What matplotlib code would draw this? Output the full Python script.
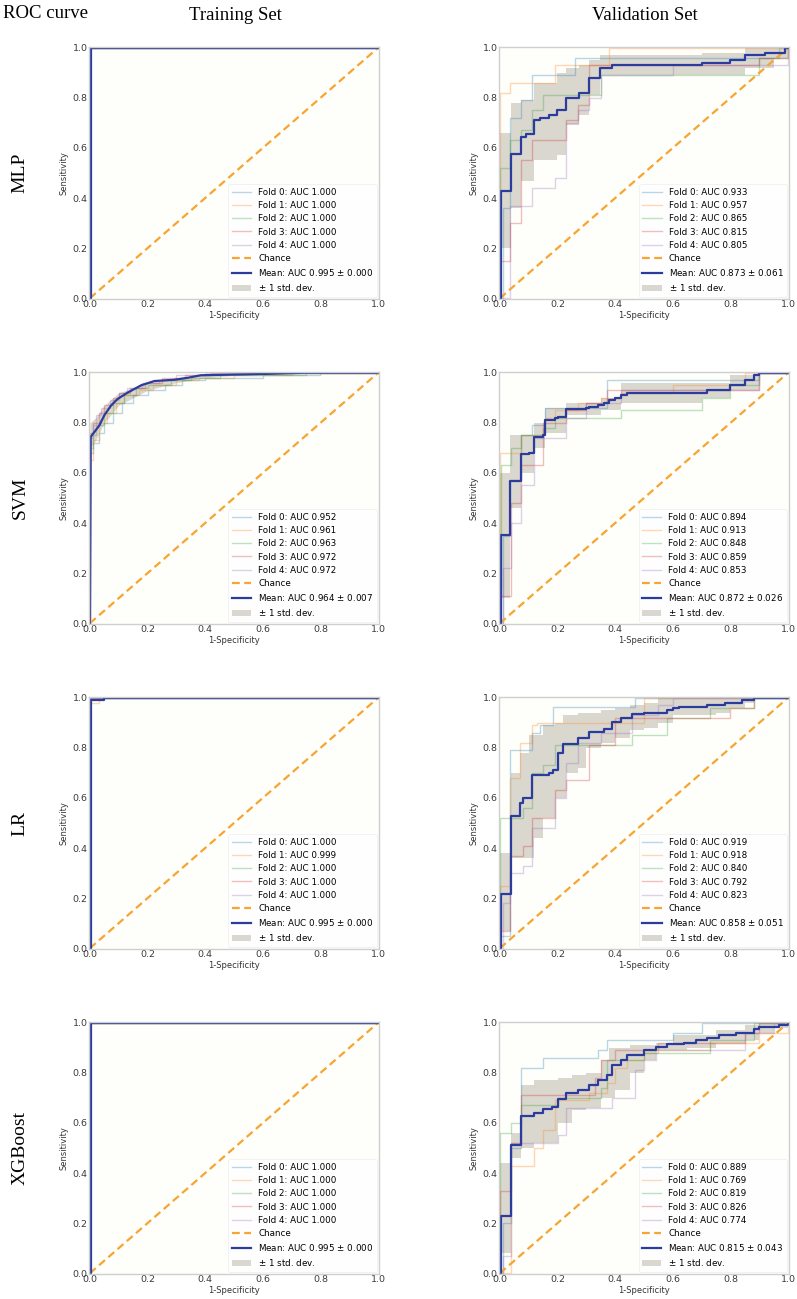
import numpy as np
import matplotlib
matplotlib.use("Agg")
import matplotlib.pyplot as plt

# ---------------------------------------------------------------------------
# datos (fpr = 1-especificidad, tpr = sensibilidad)
# cada curva: en fpr[i] la curva sube hasta tpr[i] (escalon)
# ---------------------------------------------------------------------------
MODELS = ["MLP", "SVM", "LR", "XGBoost"]

PERFECT_FPR = [0.0, 1.0]
PERFECT_TPR = [1.0, 1.0]

# --- MLP entrenamiento
mlp_tr_fold_fpr = [PERFECT_FPR] * 5
mlp_tr_fold_tpr = [PERFECT_TPR] * 5
mlp_tr_auc = [1.000, 1.000, 1.000, 1.000, 1.000]
mlp_tr_mean_fpr = [0.005, 1.0]
mlp_tr_mean_tpr = [1.0, 1.0]
mlp_tr_band_fpr = [0.0, 0.005]
mlp_tr_band_lo = [0.0, 1.0]
mlp_tr_band_hi = [0.0, 1.0]
mlp_tr_mean_auc = (0.995, 0.000)

# --- MLP validacion
mlp_va_fold_fpr = [
    [0.01, 0.035, 0.075, 0.11, 0.26, 0.97],
    [0.0, 0.035, 0.19, 0.38],
    [0.0, 0.035, 0.075, 0.11, 0.15, 0.35, 0.9, 1.0],
    [0.0, 0.035, 0.075, 0.11, 0.23, 0.27, 0.31, 0.9, 1.0],
    [0.035, 0.11, 0.19, 0.23, 0.27, 0.31, 0.35, 0.6, 1.0],
]
mlp_va_fold_tpr = [
    [0.36, 0.72, 0.79, 0.89, 0.96, 1.0],
    [0.82, 0.86, 0.93, 1.0],
    [0.52, 0.63, 0.67, 0.75, 0.81, 0.89, 0.96, 1.0],
    [0.15, 0.30, 0.55, 0.63, 0.71, 0.77, 0.93, 0.96, 1.0],
    [0.37, 0.44, 0.48, 0.70, 0.75, 0.80, 0.89, 0.93, 1.0],
]
mlp_va_auc = [0.933, 0.957, 0.865, 0.815, 0.805]
mlp_va_mean_fpr = [0.004, 0.037, 0.075, 0.09, 0.117, 0.14, 0.17, 0.198, 0.229,
                   0.275, 0.308, 0.347, 0.39, 0.7, 0.8, 0.85, 0.92, 0.99]
mlp_va_mean_tpr = [0.43, 0.575, 0.645, 0.655, 0.713, 0.72, 0.73, 0.75, 0.80,
                   0.82, 0.88, 0.92, 0.93, 0.94, 0.95, 0.97, 0.98, 1.0]
mlp_va_band_fpr = [0.0, 0.037, 0.075, 0.117, 0.198, 0.229, 0.275, 0.308,
                   0.347, 0.7, 0.85, 0.95, 1.0]
mlp_va_band_lo = [0.20, 0.36, 0.47, 0.55, 0.57, 0.69, 0.73, 0.81, 0.89,
                  0.89, 0.92, 0.96, 1.0]
mlp_va_band_hi = [0.66, 0.78, 0.79, 0.86, 0.90, 0.92, 0.93, 0.95, 0.97,
                  0.98, 1.0, 1.0, 1.0]
mlp_va_mean_auc = (0.873, 0.061)

# --- SVM entrenamiento
svm_tr_fold_fpr = [
    [0.0, 0.01, 0.03, 0.05, 0.08, 0.11, 0.15, 0.2, 0.26, 0.32, 0.4, 0.6, 0.8],
    [0.0, 0.01, 0.03, 0.06, 0.09, 0.12, 0.17, 0.22, 0.3, 0.38, 0.5, 0.7],
    [0.0, 0.01, 0.02, 0.05, 0.08, 0.12, 0.16, 0.2, 0.28, 0.35, 0.45, 0.75],
    [0.0, 0.01, 0.03, 0.05, 0.08, 0.1, 0.14, 0.19, 0.25, 0.33, 0.42],
    [0.0, 0.01, 0.02, 0.04, 0.07, 0.1, 0.13, 0.18, 0.24, 0.3, 0.4],
]
svm_tr_fold_tpr = [
    [0.68, 0.72, 0.76, 0.80, 0.84, 0.88, 0.91, 0.93, 0.95, 0.97, 0.98, 0.99, 1.0],
    [0.65, 0.73, 0.80, 0.84, 0.88, 0.91, 0.93, 0.95, 0.97, 0.98, 0.99, 1.0],
    [0.70, 0.75, 0.79, 0.84, 0.88, 0.91, 0.94, 0.95, 0.97, 0.98, 0.99, 1.0],
    [0.76, 0.80, 0.84, 0.87, 0.90, 0.92, 0.94, 0.96, 0.98, 0.99, 1.0],
    [0.74, 0.79, 0.83, 0.86, 0.89, 0.92, 0.94, 0.96, 0.97, 0.99, 1.0],
]
svm_tr_auc = [0.952, 0.961, 0.963, 0.972, 0.972]
svm_tr_mean_fpr = [0.0, 0.003, 0.02, 0.033, 0.05, 0.074, 0.097, 0.13, 0.178,
                   0.224, 0.293, 0.34, 0.385, 0.6, 0.75]
svm_tr_mean_tpr = [0.0, 0.744, 0.77, 0.79, 0.83, 0.87, 0.896, 0.92, 0.95,
                   0.967, 0.972, 0.98, 0.99, 0.995, 1.0]
svm_tr_band_fpr = [0.0, 0.02, 0.05, 0.1, 0.15, 0.2, 0.3, 0.4, 0.5, 0.75]
svm_tr_band_lo = [0.70, 0.73, 0.80, 0.87, 0.90, 0.93, 0.96, 0.98, 0.99, 1.0]
svm_tr_band_hi = [0.80, 0.82, 0.87, 0.92, 0.94, 0.96, 0.98, 0.99, 1.0, 1.0]
svm_tr_mean_auc = (0.964, 0.007)

# --- SVM validacion
svm_va_fold_fpr = [
    [0.01, 0.035, 0.075, 0.11, 0.155, 0.37, 0.9],
    [0.0, 0.075, 0.155, 0.19, 0.27, 0.35, 0.42, 0.6, 0.85],
    [0.0, 0.005, 0.04, 0.075, 0.15, 0.19, 0.42, 0.7, 0.8, 0.9],
    [0.0, 0.04, 0.075, 0.15, 0.23, 0.3, 0.37, 0.9],
    [0.01, 0.04, 0.075, 0.12, 0.23, 0.3, 0.42, 0.9],
]
svm_va_fold_tpr = [
    [0.35, 0.57, 0.75, 0.79, 0.86, 0.97, 1.0],
    [0.68, 0.75, 0.82, 0.85, 0.88, 0.90, 0.92, 0.95, 1.0],
    [0.14, 0.63, 0.70, 0.75, 0.78, 0.82, 0.85, 0.90, 0.95, 1.0],
    [0.11, 0.48, 0.63, 0.80, 0.85, 0.88, 0.93, 1.0],
    [0.22, 0.40, 0.55, 0.74, 0.82, 0.88, 0.93, 1.0],
]
svm_va_auc = [0.894, 0.913, 0.848, 0.859, 0.853]
svm_va_mean_fpr = [0.003, 0.034, 0.075, 0.1, 0.117, 0.15, 0.155, 0.19, 0.2,
                   0.229, 0.3, 0.31, 0.34, 0.36, 0.38, 0.4, 0.42, 0.44, 0.72,
                   0.8, 0.85, 0.88, 0.9]
svm_va_mean_tpr = [0.354, 0.567, 0.677, 0.68, 0.743, 0.75, 0.81, 0.82, 0.825,
                   0.856, 0.86, 0.865, 0.87, 0.88, 0.89, 0.9, 0.91, 0.92, 0.93,
                   0.95, 0.97, 0.99, 1.0]
svm_va_band_fpr = [0.0, 0.034, 0.075, 0.117, 0.155, 0.229, 0.35, 0.42, 0.7,
                   0.8, 0.9]
svm_va_band_lo = [0.10, 0.46, 0.60, 0.70, 0.76, 0.83, 0.85, 0.88, 0.90, 0.93, 1.0]
svm_va_band_hi = [0.60, 0.75, 0.75, 0.80, 0.86, 0.88, 0.90, 0.96, 0.96, 0.99, 1.0]
svm_va_mean_auc = (0.872, 0.026)

# --- LR entrenamiento
lr_tr_fold_fpr = [PERFECT_FPR, [0.0, 0.03], PERFECT_FPR, PERFECT_FPR, PERFECT_FPR]
lr_tr_fold_tpr = [PERFECT_TPR, [0.98, 1.0], PERFECT_TPR, PERFECT_TPR, PERFECT_TPR]
lr_tr_auc = [1.000, 0.999, 1.000, 1.000, 1.000]
lr_tr_mean_fpr = [0.005, 0.05]
lr_tr_mean_tpr = [0.99, 1.0]
lr_tr_band_fpr = [0.0, 0.005]
lr_tr_band_lo = [0.0, 0.99]
lr_tr_band_hi = [0.0, 0.99]
lr_tr_mean_auc = (0.995, 0.000)

# --- LR validacion
lr_va_fold_fpr = [
    [0.0, 0.035, 0.11, 0.14, 0.185, 0.47],
    [0.0, 0.035, 0.07, 0.11, 0.13, 0.5],
    [0.0, 0.08, 0.11, 0.15, 0.19, 0.46, 0.58, 0.73, 0.88],
    [0.0, 0.035, 0.08, 0.11, 0.19, 0.23, 0.31, 0.4, 0.8, 0.88],
    [0.01, 0.035, 0.08, 0.11, 0.19, 0.23, 0.27, 0.35, 0.46, 0.55, 0.6],
]
lr_va_fold_tpr = [
    [0.05, 0.79, 0.86, 0.89, 0.965, 1.0],
    [0.25, 0.68, 0.82, 0.89, 0.90, 1.0],
    [0.52, 0.56, 0.70, 0.73, 0.81, 0.85, 0.92, 0.96, 1.0],
    [0.07, 0.37, 0.41, 0.52, 0.63, 0.67, 0.81, 0.92, 0.96, 1.0],
    [0.18, 0.30, 0.33, 0.48, 0.60, 0.74, 0.82, 0.86, 0.93, 0.97, 1.0],
]
lr_va_auc = [0.919, 0.918, 0.840, 0.792, 0.823]
lr_va_mean_fpr = [0.003, 0.037, 0.069, 0.08, 0.11, 0.17, 0.185, 0.2, 0.22,
                  0.27, 0.31, 0.36, 0.39, 0.42, 0.46, 0.5, 0.58, 0.6, 0.62,
                  0.72, 0.78, 0.84, 0.88]
lr_va_mean_tpr = [0.215, 0.528, 0.58, 0.60, 0.69, 0.70, 0.71, 0.78, 0.816,
                  0.84, 0.865, 0.875, 0.905, 0.92, 0.935, 0.94, 0.95, 0.96,
                  0.965, 0.97, 0.98, 0.99, 1.0]
lr_va_band_fpr = [0.0, 0.037, 0.069, 0.1, 0.12, 0.15, 0.19, 0.22, 0.23, 0.27,
                  0.3, 0.35, 0.4, 0.45, 0.5, 0.55, 0.6, 0.75, 0.8, 0.85, 0.88]
lr_va_band_lo = [0.07, 0.36, 0.36, 0.36, 0.44, 0.52, 0.60, 0.60, 0.70, 0.72,
                 0.80, 0.82, 0.84, 0.87, 0.88, 0.90, 0.93, 0.94, 0.96, 0.98, 1.0]
lr_va_band_hi = [0.38, 0.70, 0.78, 0.85, 0.85, 0.89, 0.90, 0.93, 0.93, 0.94,
                 0.94, 0.95, 0.96, 0.97, 0.98, 1.0, 1.0, 1.0, 1.0, 1.0, 1.0]
lr_va_mean_auc = (0.858, 0.051)

# --- XGBoost entrenamiento
xgb_tr_fold_fpr = [PERFECT_FPR] * 5
xgb_tr_fold_tpr = [PERFECT_TPR] * 5
xgb_tr_auc = [1.000, 1.000, 1.000, 1.000, 1.000]
xgb_tr_mean_fpr = [0.005, 1.0]
xgb_tr_mean_tpr = [1.0, 1.0]
xgb_tr_band_fpr = [0.0, 0.005]
xgb_tr_band_lo = [0.0, 1.0]
xgb_tr_band_hi = [0.0, 1.0]
xgb_tr_mean_auc = (0.995, 0.000)

# --- XGBoost validacion
xgb_va_fold_fpr = [
    [0.01, 0.04, 0.075, 0.15, 0.34, 0.37, 0.6, 0.7],
    [0.04, 0.12, 0.15, 0.19, 0.31, 0.37, 0.4, 0.44, 0.5, 0.55, 0.73, 0.9, 1.0],
    [0.0, 0.04, 0.075, 0.2, 0.35, 0.37, 0.5, 0.73, 0.88],
    [0.0, 0.04, 0.075, 0.33, 0.35, 0.4, 0.55, 0.85, 0.9],
    [0.01, 0.04, 0.2, 0.23, 0.39, 0.47, 0.5, 0.54, 0.85, 0.95],
]
xgb_va_fold_tpr = [
    [0.20, 0.50, 0.82, 0.86, 0.89, 0.93, 0.96, 1.0],
    [0.43, 0.50, 0.57, 0.69, 0.72, 0.76, 0.82, 0.85, 0.88, 0.89, 0.92, 0.96, 1.0],
    [0.56, 0.60, 0.67, 0.70, 0.74, 0.85, 0.88, 0.93, 1.0],
    [0.33, 0.52, 0.71, 0.78, 0.85, 0.89, 0.92, 0.96, 1.0],
    [0.07, 0.52, 0.55, 0.66, 0.70, 0.81, 0.85, 0.89, 0.96, 1.0],
]
xgb_va_auc = [0.889, 0.769, 0.819, 0.826, 0.774]
xgb_va_mean_fpr = [0.003, 0.04, 0.075, 0.12, 0.15, 0.18, 0.2, 0.23, 0.27,
                   0.31, 0.34, 0.37, 0.39, 0.42, 0.44, 0.5, 0.54, 0.58, 0.64,
                   0.68, 0.72, 0.76, 0.82, 0.88, 0.9, 0.97, 1.0]
xgb_va_mean_tpr = [0.23, 0.51, 0.628, 0.64, 0.655, 0.665, 0.695, 0.72, 0.73,
                   0.75, 0.77, 0.79, 0.83, 0.85, 0.87, 0.89, 0.905, 0.915,
                   0.92, 0.93, 0.94, 0.95, 0.96, 0.975, 0.985, 0.99, 1.0]
xgb_va_band_fpr = [0.0, 0.04, 0.075, 0.12, 0.2, 0.25, 0.3, 0.35, 0.38, 0.4,
                   0.45, 0.5, 0.54, 0.6, 0.65, 0.75, 0.85, 0.9, 0.95, 1.0]
xgb_va_band_lo = [0.08, 0.46, 0.50, 0.52, 0.60, 0.65, 0.66, 0.70, 0.70, 0.73,
                  0.80, 0.85, 0.89, 0.89, 0.90, 0.92, 0.93, 0.96, 0.98, 1.0]
xgb_va_band_hi = [0.44, 0.56, 0.75, 0.77, 0.78, 0.79, 0.80, 0.85, 0.90, 0.90,
                  0.91, 0.91, 0.92, 0.95, 0.95, 0.97, 0.99, 1.0, 1.0, 1.0]
xgb_va_mean_auc = (0.815, 0.043)

# ---------------------------------------------------------------------------
# estilo
# ---------------------------------------------------------------------------
FOLD_COLORS = ["tab:blue", "tab:orange", "tab:green", "tab:red", "tab:purple"]
MEAN_COLOR = "#2c3c9c"
CHANCE_COLOR = "#f7a530"
BAND_COLOR = "#bdb8ad"
BG_COLOR = "#fefefa"
SERIF = ["Liberation Serif", "DejaVu Serif"]

W, H = 797, 1299
ROW_TOPS = [47, 372, 697, 1022]
AX_H = 252
COL_LEFT = [89, 499]
AX_W = 290


def step_xy(fpr, tpr):
    """Convierte (fpr, tpr) de escalon a puntos empezando en (0,0) y acabando en x=1."""
    xs = [0.0] + list(fpr)
    ys = [0.0] + list(tpr)
    if xs[-1] < 1.0:
        xs.append(1.0)
        ys.append(ys[-1])
    return xs, ys


def draw_panel(ax, fold_fpr, fold_tpr, aucs, mean_fpr, mean_tpr,
               band_fpr, band_lo, band_hi, mean_auc, smooth=False):
    ax.set_facecolor(BG_COLOR)
    for i in range(5):
        x, y = step_xy(fold_fpr[i], fold_tpr[i])
        ax.plot(x, y, drawstyle="steps-post", color=FOLD_COLORS[i], lw=1,
                alpha=0.3, label=f"Fold {i}: AUC {aucs[i]:.3f}")
    ax.plot([0, 1], [0, 1], ls="--", lw=1.6, color=CHANCE_COLOR, label="Chance",
            dashes=(3.5, 2))

    mean_label = f"Mean: AUC {mean_auc[0]:.3f} $\\pm$ {mean_auc[1]:.3f}"
    if smooth:
        mx, my = list(mean_fpr) + [1.0], list(mean_tpr) + [1.0]
        ax.plot(mx, my, color=MEAN_COLOR, lw=1.6, label=mean_label)
        bx = list(band_fpr) + [1.0]
        ax.fill_between(bx, list(band_lo) + [1.0], list(band_hi) + [1.0],
                        color=BAND_COLOR, alpha=0.55, lw=0, label=r"$\pm$ 1 std. dev.")
    else:
        mx, my = step_xy(mean_fpr, mean_tpr)
        ax.plot(mx, my, drawstyle="steps-post", color=MEAN_COLOR, lw=1.6,
                label=mean_label)
        bx = list(band_fpr) + [1.0]
        ax.fill_between(bx, list(band_lo) + [band_lo[-1]],
                        list(band_hi) + [band_hi[-1]], step="post",
                        color=BAND_COLOR, alpha=0.55, lw=0, label=r"$\pm$ 1 std. dev.")

    ax.set_xlim(-0.003, 1.003)
    ax.set_ylim(-0.003, 1.003)
    ax.set_xticks(np.arange(0, 1.01, 0.2))
    ax.set_yticks(np.arange(0, 1.01, 0.2))
    ax.tick_params(length=0, labelsize=6.8, labelcolor="#3a3a3a", pad=1)
    for s in ax.spines.values():
        s.set_color("#cfcfcf")
        s.set_linewidth(1.0)
    ax.set_xlabel("1-Specificity", fontsize=6, color="#333333", labelpad=1)
    ax.set_ylabel("Sensitivity", fontsize=6, color="#333333", labelpad=3)
    leg = ax.legend(loc="lower right", fontsize=6.3, frameon=True,
                    facecolor="white", edgecolor="#eeeeee", framealpha=0.85,
                    borderaxespad=0.25, labelspacing=0.48, handlelength=2.2)
    leg.get_frame().set_linewidth(0.6)


PANELS = [
    [
        (mlp_tr_fold_fpr, mlp_tr_fold_tpr, mlp_tr_auc, mlp_tr_mean_fpr, mlp_tr_mean_tpr,
         mlp_tr_band_fpr, mlp_tr_band_lo, mlp_tr_band_hi, mlp_tr_mean_auc, False),
        (mlp_va_fold_fpr, mlp_va_fold_tpr, mlp_va_auc, mlp_va_mean_fpr, mlp_va_mean_tpr,
         mlp_va_band_fpr, mlp_va_band_lo, mlp_va_band_hi, mlp_va_mean_auc, False),
    ],
    [
        (svm_tr_fold_fpr, svm_tr_fold_tpr, svm_tr_auc, svm_tr_mean_fpr, svm_tr_mean_tpr,
         svm_tr_band_fpr, svm_tr_band_lo, svm_tr_band_hi, svm_tr_mean_auc, True),
        (svm_va_fold_fpr, svm_va_fold_tpr, svm_va_auc, svm_va_mean_fpr, svm_va_mean_tpr,
         svm_va_band_fpr, svm_va_band_lo, svm_va_band_hi, svm_va_mean_auc, False),
    ],
    [
        (lr_tr_fold_fpr, lr_tr_fold_tpr, lr_tr_auc, lr_tr_mean_fpr, lr_tr_mean_tpr,
         lr_tr_band_fpr, lr_tr_band_lo, lr_tr_band_hi, lr_tr_mean_auc, False),
        (lr_va_fold_fpr, lr_va_fold_tpr, lr_va_auc, lr_va_mean_fpr, lr_va_mean_tpr,
         lr_va_band_fpr, lr_va_band_lo, lr_va_band_hi, lr_va_mean_auc, False),
    ],
    [
        (xgb_tr_fold_fpr, xgb_tr_fold_tpr, xgb_tr_auc, xgb_tr_mean_fpr, xgb_tr_mean_tpr,
         xgb_tr_band_fpr, xgb_tr_band_lo, xgb_tr_band_hi, xgb_tr_mean_auc, False),
        (xgb_va_fold_fpr, xgb_va_fold_tpr, xgb_va_auc, xgb_va_mean_fpr, xgb_va_mean_tpr,
         xgb_va_band_fpr, xgb_va_band_lo, xgb_va_band_hi, xgb_va_mean_auc, False),
    ],
]

fig = plt.figure(figsize=(W / 100, H / 100), dpi=100)
fig.patch.set_facecolor("white")

for r, top in enumerate(ROW_TOPS):
    for c, left in enumerate(COL_LEFT):
        ax = fig.add_axes([left / W, 1 - (top + AX_H) / H, AX_W / W, AX_H / H])
        fp, tp, auc, mf, mt, bf, bl, bh, ma, sm = PANELS[r][c]
        draw_panel(ax, fp, tp, auc, mf, mt, bf, bl, bh, ma, smooth=sm)
    fig.text(20 / W, 1 - (top + AX_H / 2) / H, MODELS[r], rotation=90,
             ha="center", va="center", fontsize=14, family=SERIF)

fig.text(3 / W, 1 - 13 / H, "ROC curve", ha="left", va="center",
         fontsize=13.5, family=SERIF)
fig.text(235 / W, 1 - 16 / H, "Training Set", ha="center", va="center",
         fontsize=13.5, family=SERIF)
fig.text(645 / W, 1 - 16 / H, "Validation Set", ha="center", va="center",
         fontsize=13.5, family=SERIF)

fig.savefig("out.png", dpi=100, facecolor="white")
